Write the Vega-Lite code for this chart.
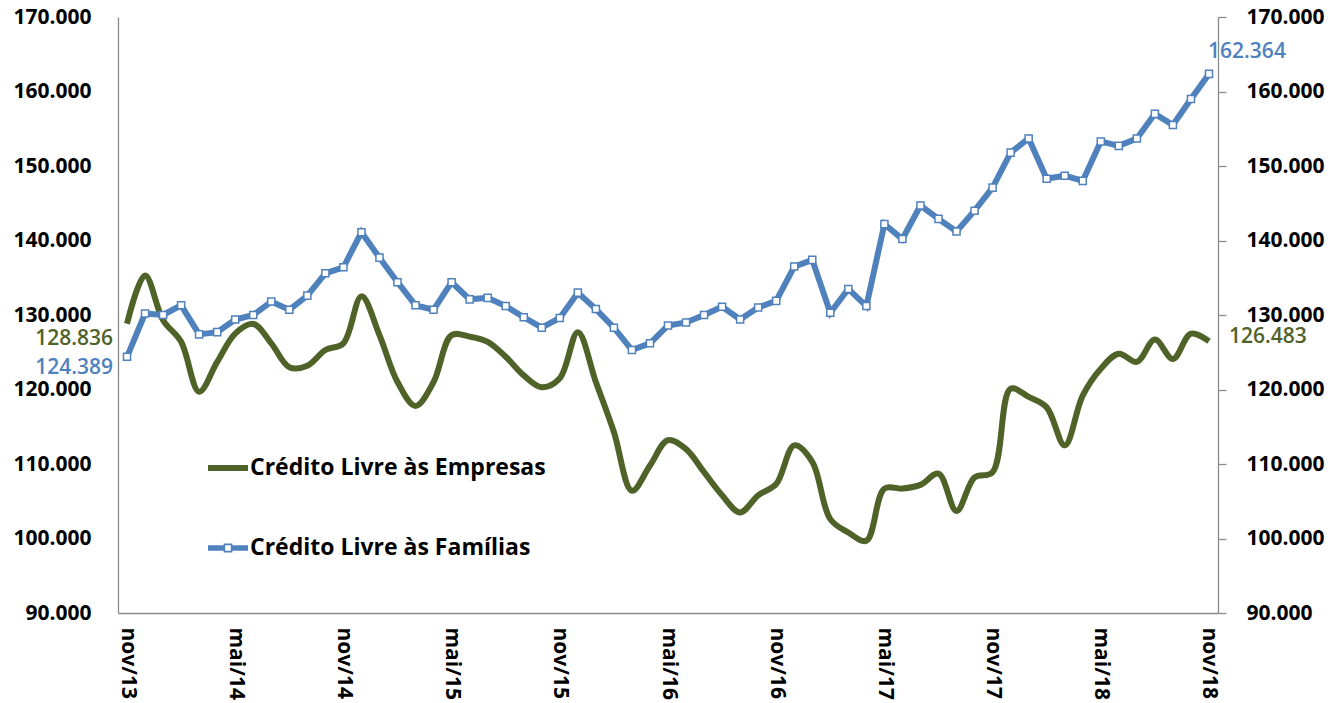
{
  "$schema": "https://vega.github.io/schema/vega-lite/v6.json",
  "width": 1100,
  "height": 596,
  "autosize": {"type": "none"},
  "padding": {"left": 118, "top": 17, "right": 113, "bottom": 90},
  "background": "white",
  "config": {"view": {"stroke": null}, "font": "Open Sans"},
  "data": {"values": [
    {"mes": "nov/13", "Empresas": 128.836, "Famílias": 124.389},
    {"mes": "dez/13", "Empresas": 135.3, "Famílias": 130.2},
    {"mes": "jan/14", "Empresas": 129.3, "Famílias": 130.0},
    {"mes": "fev/14", "Empresas": 126.4, "Famílias": 131.3},
    {"mes": "mar/14", "Empresas": 119.7, "Famílias": 127.4},
    {"mes": "abr/14", "Empresas": 123.7, "Famílias": 127.7},
    {"mes": "mai/14", "Empresas": 127.5, "Famílias": 129.4},
    {"mes": "jun/14", "Empresas": 128.8, "Famílias": 130.0},
    {"mes": "jul/14", "Empresas": 126.2, "Famílias": 131.8},
    {"mes": "ago/14", "Empresas": 123.0, "Famílias": 130.7},
    {"mes": "set/14", "Empresas": 123.2, "Famílias": 132.6},
    {"mes": "out/14", "Empresas": 125.3, "Famílias": 135.6},
    {"mes": "nov/14", "Empresas": 126.2, "Famílias": 136.4},
    {"mes": "dez/14", "Empresas": 132.5, "Famílias": 141.1},
    {"mes": "jan/15", "Empresas": 127.3, "Famílias": 137.7},
    {"mes": "fev/15", "Empresas": 121.0, "Famílias": 134.4},
    {"mes": "mar/15", "Empresas": 117.8, "Famílias": 131.3},
    {"mes": "abr/15", "Empresas": 121.0, "Famílias": 130.7},
    {"mes": "mai/15", "Empresas": 127.3, "Famílias": 134.4},
    {"mes": "jun/15", "Empresas": 127.1, "Famílias": 132.1},
    {"mes": "jul/15", "Empresas": 126.4, "Famílias": 132.3},
    {"mes": "ago/15", "Empresas": 124.4, "Famílias": 131.2},
    {"mes": "set/15", "Empresas": 121.9, "Famílias": 129.7},
    {"mes": "out/15", "Empresas": 120.3, "Famílias": 128.3},
    {"mes": "nov/15", "Empresas": 121.5, "Famílias": 129.6},
    {"mes": "dez/15", "Empresas": 127.7, "Famílias": 133.0},
    {"mes": "jan/16", "Empresas": 121.0, "Famílias": 130.8},
    {"mes": "fev/16", "Empresas": 114.3, "Famílias": 128.3},
    {"mes": "mar/16", "Empresas": 106.4, "Famílias": 125.3},
    {"mes": "abr/16", "Empresas": 109.8, "Famílias": 126.2},
    {"mes": "mai/16", "Empresas": 113.2, "Famílias": 128.6},
    {"mes": "jun/16", "Empresas": 112.0, "Famílias": 129.0},
    {"mes": "jul/16", "Empresas": 108.9, "Famílias": 130.0},
    {"mes": "ago/16", "Empresas": 105.8, "Famílias": 131.1},
    {"mes": "set/16", "Empresas": 103.5, "Famílias": 129.4},
    {"mes": "out/16", "Empresas": 105.8, "Famílias": 131.0},
    {"mes": "nov/16", "Empresas": 107.3, "Famílias": 131.9},
    {"mes": "dez/16", "Empresas": 112.5, "Famílias": 136.5},
    {"mes": "jan/17", "Empresas": 110.3, "Famílias": 137.4},
    {"mes": "fev/17", "Empresas": 102.6, "Famílias": 130.3},
    {"mes": "mar/17", "Empresas": 100.8, "Famílias": 133.5},
    {"mes": "abr/17", "Empresas": 99.7, "Famílias": 131.2},
    {"mes": "mai/17", "Empresas": 106.7, "Famílias": 142.2},
    {"mes": "jun/17", "Empresas": 106.7, "Famílias": 140.2},
    {"mes": "jul/17", "Empresas": 107.2, "Famílias": 144.7},
    {"mes": "ago/17", "Empresas": 108.7, "Famílias": 142.9},
    {"mes": "set/17", "Empresas": 103.7, "Famílias": 141.2},
    {"mes": "out/17", "Empresas": 108.2, "Famílias": 144.0},
    {"mes": "nov/17", "Empresas": 108.9, "Famílias": 147.1},
    {"mes": "dez/17", "Empresas": 120.1, "Famílias": 151.8},
    {"mes": "jan/18", "Empresas": 119.0, "Famílias": 153.7},
    {"mes": "fev/18", "Empresas": 117.6, "Famílias": 148.3},
    {"mes": "mar/18", "Empresas": 112.5, "Famílias": 148.7},
    {"mes": "abr/18", "Empresas": 119.2, "Famílias": 148.0},
    {"mes": "mai/18", "Empresas": 122.8, "Famílias": 153.3},
    {"mes": "jun/18", "Empresas": 124.8, "Famílias": 152.7},
    {"mes": "jul/18", "Empresas": 123.7, "Famílias": 153.7},
    {"mes": "ago/18", "Empresas": 126.7, "Famílias": 157.0},
    {"mes": "set/18", "Empresas": 124.1, "Famílias": 155.5},
    {"mes": "out/18", "Empresas": 127.5, "Famílias": 159.0},
    {"mes": "nov/18", "Empresas": 126.483, "Famílias": 162.364}
  ]},
  "transform": [{"fold": ["Empresas", "Famílias"], "as": ["serie", "valor"]}],
  "encoding": {
    "x": {
      "field": "mes", "type": "ordinal", "sort": null,
      "scale": {"type": "point", "padding": 0.5},
      "axis": {
        "title": null,
        "values": ["nov/13", "mai/14", "nov/14", "mai/15", "nov/15", "mai/16", "nov/16", "mai/17", "nov/17", "mai/18", "nov/18"],
        "labelAngle": 90, "labelFontSize": 21, "labelFontWeight": "bold", "labelColor": "#000000",
        "labelFont": "Open Sans", "labelPadding": 14, "labelOverlap": false,
        "ticks": false, "grid": false, "domainColor": "#8a8a8a", "domainWidth": 1.3
      }
    }
  },
  "layer": [
    {
      "transform": [{"filter": "datum.serie === 'Empresas'"}],
      "mark": {"type": "line", "interpolate": "catmull-rom", "strokeWidth": 6},
      "encoding": {
        "y": {
          "field": "valor", "type": "quantitative",
          "scale": {"domain": [90, 170], "zero": false, "nice": false},
          "axis": {
            "orient": "left", "title": null, "values": [90, 100, 110, 120, 130, 140, 150, 160, 170],
            "format": ".3f", "labelFontSize": 21, "labelFontWeight": "bold", "labelColor": "#000000",
            "labelFont": "Open Sans", "labelPadding": 27, "ticks": false, "grid": false,
            "domainColor": "#8a8a8a", "domainWidth": 1.3
          }
        },
        "color": {
          "field": "serie", "type": "nominal",
          "scale": {"domain": ["Empresas", "Famílias"], "range": ["#4F6228", "#4F81BD"]},
          "legend": {
            "orient": "none", "legendX": 90, "legendY": 431, "title": null, "padding": 0,
            "labelExpr": "'Crédito Livre às ' + datum.label",
            "labelFont": "Open Sans", "labelFontSize": 23, "labelFontWeight": "bold", "labelColor": "#000000",
            "labelLimit": 500, "labelOffset": 2, "symbolSize": 1600, "rowPadding": 48,
            "symbolStrokeWidth": 0,
            "encode": {
              "symbols": {
                "update": {
                  "shape": {"signal": "datum.value === 'Famílias' ? 'M-1,-0.14H-0.2V0.14H-1Z M0.2,-0.14H1V0.14H0.2Z M-0.22,-0.22H0.22V0.22H-0.22Z M-0.14,-0.14V0.14H0.14V-0.14Z' : 'M-1,-0.15H1V0.15H-1Z'"},
                  "fill": {"signal": "datum.value === 'Famílias' ? '#4F81BD' : '#4F6228'"},
                  "fillOpacity": {"value": 1},
                  "strokeWidth": {"value": 0}
                }
              }
            }
          }
        }
      }
    },
    {
      "transform": [{"filter": "datum.serie === 'Famílias'"}],
      "mark": {"type": "line", "strokeWidth": 6},
      "encoding": {
        "y": {
          "field": "valor", "type": "quantitative",
          "scale": {"domain": [90, 170], "zero": false, "nice": false},
          "axis": {
            "orient": "right", "title": null, "values": [90, 100, 110, 120, 130, 140, 150, 160, 170],
            "format": ".3f", "labelFontSize": 21, "labelFontWeight": "bold", "labelColor": "#000000",
            "labelFont": "Open Sans", "labelPadding": 20, "ticks": true, "tickSize": 8,
            "tickColor": "#8a8a8a", "tickWidth": 1.3, "grid": false,
            "domainColor": "#8a8a8a", "domainWidth": 1.3
          }
        },
        "color": {"field": "serie", "type": "nominal"}
      }
    },
    {
      "transform": [{"filter": "datum.serie === 'Famílias'"}],
      "mark": {"type": "point", "shape": "square", "filled": true, "size": 50, "strokeWidth": 1.5, "opacity": 1},
      "encoding": {
        "y": {"field": "valor", "type": "quantitative", "scale": {"domain": [90, 170], "zero": false, "nice": false}, "axis": null},
        "fill": {"value": "#ffffff"},
        "stroke": {"value": "#4F81BD"}
      }
    },
    {
      "transform": [{"filter": "datum.serie === 'Empresas' && datum.mes === 'nov/13'"}],
      "mark": {"type": "text", "align": "right", "baseline": "middle", "dx": -14, "dy": 15, "fontSize": 21, "fontWeight": 600, "font": "Open Sans", "color": "#4F6228"},
      "encoding": {
        "y": {"field": "valor", "type": "quantitative", "scale": {"domain": [90, 170], "zero": false, "nice": false}, "axis": null},
        "text": {"field": "valor", "type": "quantitative", "format": ".3f"}
      }
    },
    {
      "transform": [{"filter": "datum.serie === 'Famílias' && datum.mes === 'nov/13'"}],
      "mark": {"type": "text", "align": "right", "baseline": "middle", "dx": -14, "dy": 11, "fontSize": 21, "fontWeight": 600, "font": "Open Sans", "color": "#4F81BD"},
      "encoding": {
        "y": {"field": "valor", "type": "quantitative", "scale": {"domain": [90, 170], "zero": false, "nice": false}, "axis": null},
        "text": {"field": "valor", "type": "quantitative", "format": ".3f"}
      }
    },
    {
      "transform": [{"filter": "datum.serie === 'Famílias' && datum.mes === 'nov/18'"}],
      "mark": {"type": "text", "align": "center", "baseline": "middle", "dx": 38, "dy": -22, "fontSize": 21, "fontWeight": 600, "font": "Open Sans", "color": "#4F81BD"},
      "encoding": {
        "y": {"field": "valor", "type": "quantitative", "scale": {"domain": [90, 170], "zero": false, "nice": false}, "axis": null},
        "text": {"field": "valor", "type": "quantitative", "format": ".3f"}
      }
    },
    {
      "transform": [{"filter": "datum.serie === 'Empresas' && datum.mes === 'nov/18'"}],
      "mark": {"type": "text", "align": "left", "baseline": "middle", "dx": 20, "dy": -4, "fontSize": 21, "fontWeight": 600, "font": "Open Sans", "color": "#4F6228"},
      "encoding": {
        "y": {"field": "valor", "type": "quantitative", "scale": {"domain": [90, 170], "zero": false, "nice": false}, "axis": null},
        "text": {"field": "valor", "type": "quantitative", "format": ".3f"}
      }
    }
  ],
  "resolve": {"scale": {"y": "independent"}}
}
